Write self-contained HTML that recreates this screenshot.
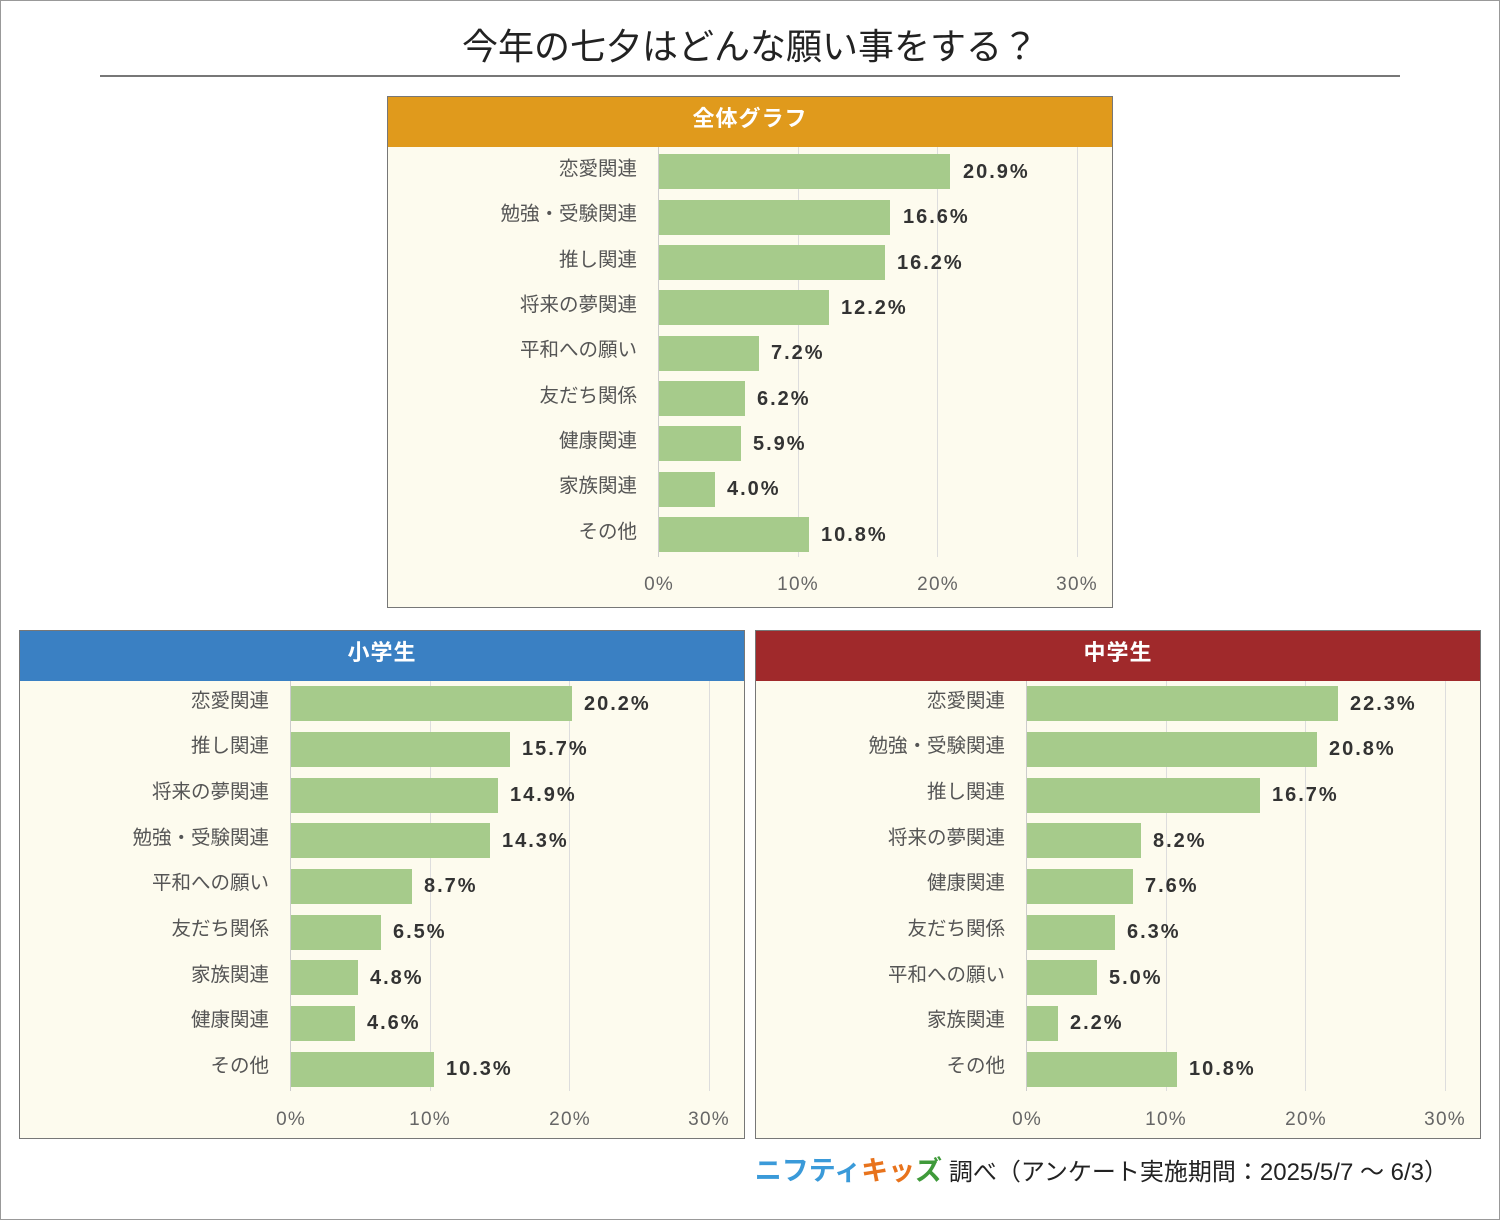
<!DOCTYPE html>
<html><head><meta charset="utf-8"><style>
*{margin:0;padding:0;box-sizing:border-box}
body{width:1500px;height:1220px;background:#fff;position:relative;font-family:"Liberation Sans","Noto Sans CJK JP",sans-serif;overflow:hidden}
.frame{position:absolute;left:0;top:0;width:1500px;height:1220px;border:1px solid #999}
.title{position:absolute;left:0;width:1500px;top:18px;text-align:center;font-size:36px;color:#222}
.uline{position:absolute;left:100px;top:75px;width:1300px;height:2px;background:#777}
.p{position:absolute;width:726px;background:#fdfbee;border:1px solid #777}
.h{position:absolute;left:0;top:0;width:100%;height:50px;color:#fff;font-weight:bold;font-size:22px;text-align:center;line-height:44px;letter-spacing:1px}
.g{position:absolute;top:50px;width:1px;height:410px;background:#ddd}
.ax{position:absolute;top:50px;left:270px;width:1px;height:410px;background:#ccc}
.b{position:absolute;left:271px;height:35px;background:#a6cb8b}
.l{position:absolute;right:475px;font-size:19.5px;color:#555;white-space:nowrap;line-height:22px}
.v{position:absolute;font-size:20px;font-weight:bold;color:#333;line-height:22px;white-space:nowrap;letter-spacing:2px}
.t{position:absolute;font-size:19px;color:#666;width:70px;text-align:center;margin-left:-35px;letter-spacing:1.2px}
.foot{position:absolute;right:52px;top:1149px;font-size:24px;color:#222;white-space:nowrap}
</style></head><body>
<div class="frame"></div>
<div class="title">今年の七夕はどんな願い事をする？</div>
<div class="uline"></div>

<div class="p" style="left:387px;top:96px;height:512px">
<div class="h" style="background:#e09a1c">全体グラフ</div>
<div class="g" style="left:410px"></div><div class="g" style="left:549px"></div><div class="g" style="left:689px"></div>
<div class="ax"></div>
<div class="b" style="top:57px;width:291px"></div><div class="l" style="top:61px">恋愛関連</div><div class="v" style="top:64px;left:575px">20.9%</div>
<div class="b" style="top:103px;width:231px"></div><div class="l" style="top:106px">勉強・受験関連</div><div class="v" style="top:109px;left:515px">16.6%</div>
<div class="b" style="top:148px;width:226px"></div><div class="l" style="top:152px">推し関連</div><div class="v" style="top:155px;left:509px">16.2%</div>
<div class="b" style="top:193px;width:170px"></div><div class="l" style="top:197px">将来の夢関連</div><div class="v" style="top:200px;left:453px">12.2%</div>
<div class="b" style="top:239px;width:100px"></div><div class="l" style="top:242px">平和への願い</div><div class="v" style="top:245px;left:383px">7.2%</div>
<div class="b" style="top:284px;width:86px"></div><div class="l" style="top:288px">友だち関係</div><div class="v" style="top:291px;left:369px">6.2%</div>
<div class="b" style="top:329px;width:82px"></div><div class="l" style="top:333px">健康関連</div><div class="v" style="top:336px;left:365px">5.9%</div>
<div class="b" style="top:375px;width:56px"></div><div class="l" style="top:378px">家族関連</div><div class="v" style="top:381px;left:339px">4.0%</div>
<div class="b" style="top:420px;width:150px"></div><div class="l" style="top:424px">その他</div><div class="v" style="top:427px;left:433px">10.8%</div>
<div class="t" style="left:271px;top:477px">0%</div><div class="t" style="left:410px;top:477px">10%</div><div class="t" style="left:550px;top:477px">20%</div><div class="t" style="left:689px;top:477px">30%</div>
</div>

<div class="p" style="left:19px;top:630px;height:509px">
<div class="h" style="background:#3a80c3">小学生</div>
<div class="g" style="left:410px"></div><div class="g" style="left:549px"></div><div class="g" style="left:689px"></div>
<div class="ax"></div>
<div class="b" style="top:55px;width:281px"></div><div class="l" style="top:59px">恋愛関連</div><div class="v" style="top:62px;left:564px">20.2%</div>
<div class="b" style="top:101px;width:219px"></div><div class="l" style="top:104px">推し関連</div><div class="v" style="top:107px;left:502px">15.7%</div>
<div class="b" style="top:147px;width:207px"></div><div class="l" style="top:150px">将来の夢関連</div><div class="v" style="top:153px;left:490px">14.9%</div>
<div class="b" style="top:192px;width:199px"></div><div class="l" style="top:196px">勉強・受験関連</div><div class="v" style="top:199px;left:482px">14.3%</div>
<div class="b" style="top:238px;width:121px"></div><div class="l" style="top:241px">平和への願い</div><div class="v" style="top:244px;left:404px">8.7%</div>
<div class="b" style="top:284px;width:90px"></div><div class="l" style="top:287px">友だち関係</div><div class="v" style="top:290px;left:373px">6.5%</div>
<div class="b" style="top:329px;width:67px"></div><div class="l" style="top:333px">家族関連</div><div class="v" style="top:336px;left:350px">4.8%</div>
<div class="b" style="top:375px;width:64px"></div><div class="l" style="top:378px">健康関連</div><div class="v" style="top:381px;left:347px">4.6%</div>
<div class="b" style="top:421px;width:143px"></div><div class="l" style="top:424px">その他</div><div class="v" style="top:427px;left:426px">10.3%</div>
<div class="t" style="left:271px;top:478px">0%</div><div class="t" style="left:410px;top:478px">10%</div><div class="t" style="left:550px;top:478px">20%</div><div class="t" style="left:689px;top:478px">30%</div>
</div>

<div class="p" style="left:755px;top:630px;height:509px">
<div class="h" style="background:#a0292b">中学生</div>
<div class="g" style="left:410px"></div><div class="g" style="left:549px"></div><div class="g" style="left:689px"></div>
<div class="ax"></div>
<div class="b" style="top:55px;width:311px"></div><div class="l" style="top:59px">恋愛関連</div><div class="v" style="top:62px;left:594px">22.3%</div>
<div class="b" style="top:101px;width:290px"></div><div class="l" style="top:104px">勉強・受験関連</div><div class="v" style="top:107px;left:573px">20.8%</div>
<div class="b" style="top:147px;width:233px"></div><div class="l" style="top:150px">推し関連</div><div class="v" style="top:153px;left:516px">16.7%</div>
<div class="b" style="top:192px;width:114px"></div><div class="l" style="top:196px">将来の夢関連</div><div class="v" style="top:199px;left:397px">8.2%</div>
<div class="b" style="top:238px;width:106px"></div><div class="l" style="top:241px">健康関連</div><div class="v" style="top:244px;left:389px">7.6%</div>
<div class="b" style="top:284px;width:88px"></div><div class="l" style="top:287px">友だち関係</div><div class="v" style="top:290px;left:371px">6.3%</div>
<div class="b" style="top:329px;width:70px"></div><div class="l" style="top:333px">平和への願い</div><div class="v" style="top:336px;left:353px">5.0%</div>
<div class="b" style="top:375px;width:31px"></div><div class="l" style="top:378px">家族関連</div><div class="v" style="top:381px;left:314px">2.2%</div>
<div class="b" style="top:421px;width:150px"></div><div class="l" style="top:424px">その他</div><div class="v" style="top:427px;left:433px">10.8%</div>
<div class="t" style="left:271px;top:478px">0%</div><div class="t" style="left:410px;top:478px">10%</div><div class="t" style="left:550px;top:478px">20%</div><div class="t" style="left:689px;top:478px">30%</div>
</div>

<div class="foot"><span style="color:#3a9ad9;font-weight:bold;font-size:27px">ニフティ</span><span style="color:#e8731c;font-weight:bold;font-size:27px">キッ</span><span style="color:#3f9a3a;font-weight:bold;font-size:27px">ズ</span> 調べ（アンケート実施期間：2025/5/7 ～ 6/3）</div>
</body></html>
